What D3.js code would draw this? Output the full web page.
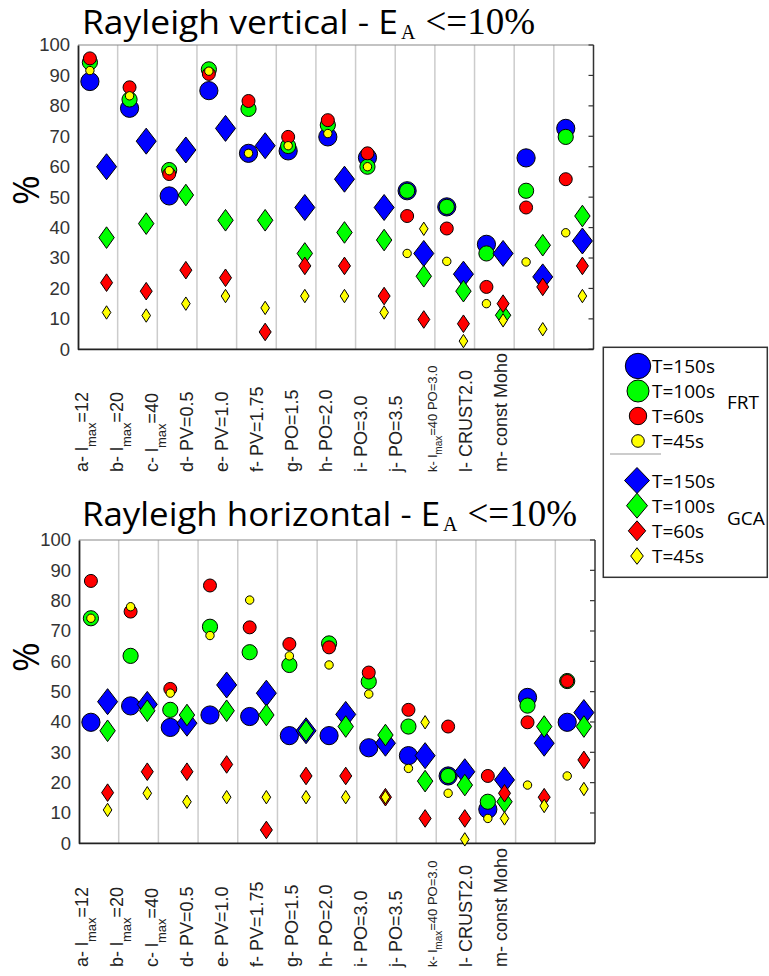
<!DOCTYPE html>
<html>
<head>
<meta charset="utf-8">
<script src="https://cdn.jsdelivr.net/npm/d3@7/dist/d3.min.js"></script>
<style>
  html, body { margin: 0; padding: 0; background: #fff; }
  svg { display: block; }
</style>
</head>
<body>
<svg id="chart" width="769" height="976"></svg>
<script>
// ---------------- DATA ----------------
const categories = ["a","b","c","d","e","f","g","h","i","j","k","l","m"];
// label segments: [text, isSubscript]
const categoryLabels = [
  [["a- l",0],["max",1],["=12",0]],
  [["b- l",0],["max",1],["=20",0]],
  [["c- l",0],["max",1],["=40",0]],
  [["d- PV=0.5",0]],
  [["e- PV=1.0",0]],
  [["f- PV=1.75",0]],
  [["g- PO=1.5",0]],
  [["h- PO=2.0",0]],
  [["i- PO=3.0",0]],
  [["j- PO=3.5",0]],
  [["k- l",0],["max",1],["=40 PO=3.0",0]],
  [["l- CRUST2.0",0]],
  [["m- const Moho",0]]
];
const yTicks = [0,10,20,30,40,50,60,70,80,90,100];
const periods = ["T=150s","T=100s","T=60s","T=45s"];
const colors = ["#0000ff","#00ff00","#ff0000","#ffff00"];
const methods = ["FRT","GCA"];

// Rayleigh vertical
const vertFRT150 = [88, 79.2, 50.4, 85, 64.4, 65.2, 69.8, 63, 52.1, 46.8, 34.5, 62.9, 72.6];
const vertFRT100 = [94.3, 82.1, 58.9, 92, 79, 66.8, 73.7, 60, 52.1, 46.8, 31.5, 52.1, 69.8];
const vertFRT60  = [95.6, 86.1, 57.6, 90.5, 81.6, 69.8, 75.3, 64.4, 43.8, 39.7, 20.5, 46.6, 55.9];
const vertFRT45  = [91.6, 83.3, 58.7, 91.4, 64.4, 66.9, 70.9, 60, 31.5, 28.9, 15, 28.7, 38.3];
const vertGCA150 = [60, 68.4, 65.5, 72.6, 66.9, 46.6, 55.9, 46.6, 31.5, 24.7, 31.5, 23.8, 35.6];
const vertGCA100 = [36.7, 41.3, 50.7, 42.4, 42.4, 31.5, 38.4, 35.9, 24, 19.1, 11.2, 34.2, 43.8];
const vertGCA60  = [21.9, 19.1, 26, 23.5, 5.7, 27.4, 27.4, 17.5, 9.8, 8.4, 15, 20.5, 27.4];
const vertGCA45  = [12.1, 11.1, 15, 17.5, 13.6, 17.5, 17.5, 12.1, 39.6, 2.7, 9.5, 6.6, 17.5];

// Rayleigh horizontal
const horFRT150 = [39.9, 45.3, 38.2, 42.3, 41.8, 35.5, 35.5, 31.5, 28.9, 22.2, 11.2, 48.1, 39.9];
const horFRT100 = [74.2, 61.8, 44, 71.4, 63, 58.8, 65.9, 53.3, 38.5, 22.2, 13.7, 45.4, 53.5];
const horFRT60  = [86.5, 76.4, 50.9, 85, 71.2, 65.7, 64.6, 56.3, 44, 38.5, 22.2, 39.9, 53.5];
const horFRT45  = [74.2, 78, 49.5, 68.5, 80.2, 61.8, 58.8, 49.2, 24.7, 16.5, 8.2, 19.2, 22.2];
const horGCA150 = [46.7, 45.8, 39.6, 52.2, 49.5, 37.1, 42.5, 33, 28.9, 23.6, 20.9, 33, 43.1];
const horGCA100 = [37.1, 43.7, 42.3, 43.7, 42.3, 37.1, 38.5, 35.7, 20.5, 19.2, 13.7, 38.5, 38.5];
const horGCA60  = [16.7, 23.6, 23.6, 26, 4.4, 22.2, 22.2, 15.2, 8.2, 8.2, 16.5, 15.2, 27.5];
const horGCA45  = [11, 16.5, 13.7, 15.2, 15.2, 15.2, 15.2, 15.2, 39.9, 1.3, 8.2, 12.3, 17.9];

// ---------------- DRAWING ----------------
const svg = d3.select("#chart");
const SANS = "'Open Sans', 'DejaVu Sans', sans-serif";
const HELV = "'Liberation Sans', Arial, sans-serif";
const SERIF = "'Liberation Serif', 'Times New Roman', serif";

const circleR = [9.1, 7.6, 6.5, 4.2];
const diamondHW = [10, 7.7, 6, 4.3];
const diamondHH = [13, 10.8, 8.8, 6.7];

function diamondPath(hw, hh) {
  return `M0,${-hh}L${hw},0L0,${hh}L${-hw},0Z`;
}

function drawPanel(cfg) {
  const g = svg.append("g");
  const x = d3.scaleLinear().domain([0, categories.length]).range([cfg.left, cfg.right]);
  const y = d3.scaleLinear().domain([0, 100]).range([cfg.bottom, cfg.top]);

  // title
  const t = g.append("text").attr("x", cfg.titleX).attr("y", cfg.titleY).attr("fill", "#000");
  t.append("tspan").attr("font-family", SANS).attr("font-size", 32.5)
    .attr("textLength", cfg.titleLen).attr("lengthAdjust", "spacingAndGlyphs").text(cfg.title);
  t.append("tspan").attr("font-family", SERIF).attr("font-size", 20).attr("dx", 3).attr("dy", 5).text("A");
  t.append("tspan").attr("font-family", SERIF).attr("font-size", 37).attr("dx", 10).attr("dy", -5).text("<=10%");

  // grid lines
  g.selectAll("line.grid").data(d3.range(1, categories.length)).enter().append("line")
    .attr("x1", d => x(d)).attr("x2", d => x(d))
    .attr("y1", cfg.top).attr("y2", cfg.bottom)
    .attr("stroke", "#cccccc").attr("stroke-width", 1.5);

  // frame
  g.append("line").attr("x1", cfg.left).attr("x2", cfg.right).attr("y1", cfg.top).attr("y2", cfg.top)
    .attr("stroke", "#888").attr("stroke-width", 1.2);
  g.append("line").attr("x1", cfg.right).attr("x2", cfg.right).attr("y1", cfg.top).attr("y2", cfg.bottom)
    .attr("stroke", "#333").attr("stroke-width", 1.5);

  // right inward ticks
  g.selectAll("line.rtick").data(yTicks).enter().append("line")
    .attr("x1", cfg.right - 5).attr("x2", cfg.right)
    .attr("y1", d => y(d)).attr("y2", d => y(d))
    .attr("stroke", "#333").attr("stroke-width", 1.2);

  // left axis
  const ax = g.append("g").attr("transform", `translate(${cfg.left},0)`)
    .call(d3.axisLeft(y).tickValues(yTicks).tickSize(0).tickPadding(8));
  ax.select(".domain").attr("stroke", "#222").attr("stroke-width", 1.8);
  ax.selectAll("text").attr("font-family", HELV).attr("font-size", 18.5).attr("fill", "#333");

  // bottom axis line
  g.append("line").attr("x1", cfg.left).attr("x2", cfg.right).attr("y1", cfg.bottom).attr("y2", cfg.bottom)
    .attr("stroke", "#222").attr("stroke-width", 1.8);

  // y label
  g.append("text")
    .attr("transform", `translate(${cfg.yLabelX},${cfg.yLabelY}) rotate(-90)`)
    .attr("text-anchor", "middle").attr("dominant-baseline", "central")
    .attr("font-family", SANS).attr("font-size", 36).attr("fill", "#000").text("%");

  // x category labels (rotated)
  const lx = d3.scaleLinear().domain([0, categories.length - 1]).range([cfg.labelX0, cfg.labelX1]);
  categoryLabels.forEach((segs, i) => {
    const small = categories[i] === "k";
    const fs = small ? 13 : 18;
    const sfs = small ? 10 : 13;
    const sub = small ? 5 : 8;
    const tx = g.append("text")
      .attr("transform", `translate(${lx(i)},${cfg.labelY}) rotate(-90)`)
      .attr("text-anchor", "start")
      .attr("font-family", HELV).attr("fill", "#222");
    let prevSub = false;
    segs.forEach(([s, isSub]) => {
      const ts = tx.append("tspan").text(s).attr("font-size", isSub ? sfs : fs);
      if (isSub && !prevSub) ts.attr("dy", sub);
      if (!isSub && prevSub) ts.attr("dy", -sub);
      prevSub = !!isSub;
    });
  });

  // markers
  const circles = [cfg.frt[0], cfg.frt[1], cfg.frt[2], cfg.frt[3]];
  const diamonds = [cfg.gca[0], cfg.gca[1], cfg.gca[2], cfg.gca[3]];
  circles.forEach((vals, k) => {
    g.selectAll(null).data(vals).enter().append("circle")
      .attr("cx", (d, i) => x(i + 0.3)).attr("cy", d => y(d))
      .attr("r", circleR[k]).attr("fill", colors[k])
      .attr("stroke", "#000").attr("stroke-width", 1);
  });
  diamonds.forEach((vals, k) => {
    g.selectAll(null).data(vals).enter().append("path")
      .attr("transform", (d, i) => `translate(${x(i + 0.72)},${y(d)})`)
      .attr("d", diamondPath(diamondHW[k], diamondHH[k]))
      .attr("fill", colors[k]).attr("stroke", "#000").attr("stroke-width", 1);
  });
}

drawPanel({
  title: "Rayleigh vertical - E", titleX: 82, titleY: 34, titleLen: 316,
  left: 78, right: 593.5, top: 45, bottom: 349.3,
  yLabelX: 25, yLabelY: 190,
  labelX0: 88, labelX1: 507, labelY: 472,
  frt: [vertFRT150, vertFRT100, vertFRT60, vertFRT45],
  gca: [vertGCA150, vertGCA100, vertGCA60, vertGCA45]
});
drawPanel({
  title: "Rayleigh horizontal - E", titleX: 82, titleY: 526, titleLen: 358,
  left: 79, right: 595, top: 540, bottom: 843.3,
  yLabelX: 25, yLabelY: 657,
  labelX0: 88, labelX1: 507, labelY: 967,
  frt: [horFRT150, horFRT100, horFRT60, horFRT45],
  gca: [horGCA150, horGCA100, horGCA60, horGCA45]
});

// ---------------- LEGEND ----------------
const lg = svg.append("g");
lg.append("rect").attr("x", 603.3).attr("y", 347.3).attr("width", 164).attr("height", 230)
  .attr("fill", "#fff").attr("stroke", "#333").attr("stroke-width", 1.5);
const legCircleR = [12.7, 11, 8.7, 6.3];
const legDiaHW = [12.5, 10.5, 8.7, 6.3];
const legDiaHH = [13, 12.5, 10, 8.3];
const legCircleY = d3.scaleLinear().domain([0, 3]).range([366, 441]);
const legDiaY = d3.scaleLinear().domain([0, 3]).range([480.5, 556]);
periods.forEach((p, k) => {
  lg.append("circle").attr("cx", 638).attr("cy", legCircleY(k)).attr("r", legCircleR[k])
    .attr("fill", colors[k]).attr("stroke", "#000").attr("stroke-width", 1);
  lg.append("text").attr("x", 652).attr("y", legCircleY(k) + 6.5)
    .attr("font-family", SANS).attr("font-size", 19).attr("fill", "#000").text(p);
  lg.append("path").attr("transform", `translate(637,${legDiaY(k)})`)
    .attr("d", diamondPath(legDiaHW[k], legDiaHH[k]))
    .attr("fill", colors[k]).attr("stroke", "#000").attr("stroke-width", 1);
  lg.append("text").attr("x", 652).attr("y", legDiaY(k) + 7)
    .attr("font-family", SANS).attr("font-size", 19).attr("fill", "#000").text(p);
});
lg.append("line").attr("x1", 610).attr("x2", 661).attr("y1", 454).attr("y2", 454)
  .attr("stroke", "#999").attr("stroke-width", 1);
lg.append("text").attr("x", 727).attr("y", 408.5).attr("font-family", SANS).attr("font-size", 19)
  .attr("fill", "#000").text(methods[0]);
lg.append("text").attr("x", 727).attr("y", 525).attr("font-family", SANS).attr("font-size", 19)
  .attr("fill", "#000").text(methods[1]);
</script>
</body>
</html>
